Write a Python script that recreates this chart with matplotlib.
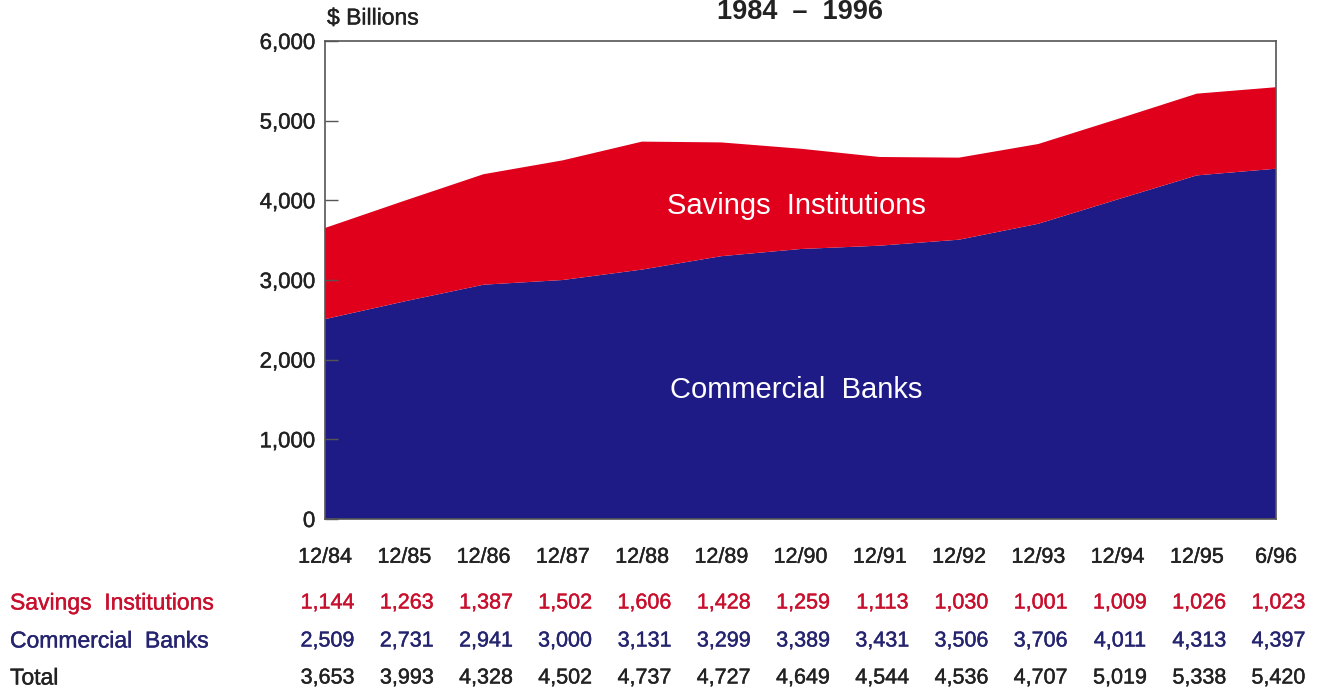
import matplotlib
matplotlib.use("Agg")
import matplotlib.pyplot as plt
from matplotlib.ticker import FuncFormatter
import matplotlib.transforms as mtransforms
import matplotlib.patheffects as pe

plt.rcParams["font.family"] = ["Liberation Sans", "DejaVu Sans"]

periods = ["12/84", "12/85", "12/86", "12/87", "12/88", "12/89", "12/90",
           "12/91", "12/92", "12/93", "12/94", "12/95", "6/96"]
savings = [1144, 1263, 1387, 1502, 1606, 1428, 1259, 1113, 1030, 1001, 1009, 1026, 1023]
commercial = [2509, 2731, 2941, 3000, 3131, 3299, 3389, 3431, 3506, 3706, 4011, 4313, 4397]
totals = [3653, 3993, 4328, 4502, 4737, 4727, 4649, 4544, 4536, 4707, 5019, 5338, 5420]
y_ticks = [0, 1000, 2000, 3000, 4000, 5000, 6000]

RED = "#e1001c"
BLUE = "#1f1b86"
RED_TXT = "#c8102e"
BLUE_TXT = "#25246f"
DARK = "#222222"


def heavy(color, w=0.3):
    return [pe.withStroke(linewidth=w, foreground=color)]


fig = plt.figure(figsize=(13.26, 6.92), dpi=100)
ax = fig.add_axes([325 / 1326, 1 - 519 / 692, (1276 - 325) / 1326, (519 - 41) / 692])

x = list(range(len(periods)))
ax.stackplot(x, commercial, savings, colors=[BLUE, RED], linewidth=0)

ax.set_xlim(0, len(periods) - 1)
ax.set_ylim(0, 6000)
ax.set_yticks(y_ticks)
ax.yaxis.set_major_formatter(FuncFormatter(lambda v, p: f"{int(v):,}"))
ax.tick_params(axis="y", direction="in", length=9, width=1, color="#555555",
               labelsize=16, labelcolor=DARK, pad=7)
ax.set_xticks(x)
ax.set_xticklabels(periods)
ax.tick_params(axis="x", length=0, labelsize=15.5, labelcolor=DARK, pad=20)
for lbl in ax.get_xticklabels() + ax.get_yticklabels():
    lbl.set_path_effects(heavy(DARK))
for side in ["left", "top", "right", "bottom"]:
    ax.spines[side].set_color("#555555")
    ax.spines[side].set_linewidth(1.2)

ax.text(5.95, 3930, "Savings  Institutions", color="white", fontsize=21,
        ha="center", va="center")
ax.text(5.95, 1620, "Commercial  Banks", color="white", fontsize=21,
        ha="center", va="center")

fig.text(327 / 1326, 1 - 18 / 692, "$ Billions", fontsize=16.5, color=DARK,
         ha="left", va="center", path_effects=heavy(DARK))
fig.text(800 / 1326, 1 - 12 / 692, "1984  –  1996", fontsize=19.5, color=DARK,
         ha="center", va="center", fontweight="bold")

# data table below the axis: x in data units, y in figure pixels
trans = mtransforms.blended_transform_factory(ax.transData, fig.transFigure)
rows = [("Savings  Institutions", savings, RED_TXT, 603),
        ("Commercial  Banks", commercial, BLUE_TXT, 641),
        ("Total", totals, DARK, 678)]
for label, values, color, ypix in rows:
    yf = 1 - ypix / 692
    fig.text(10 / 1326, yf, label, color=color, fontsize=16.5, ha="left",
             va="center", path_effects=heavy(color))
    for xi, v in zip(x, values):
        ax.text(xi + 0.03, yf, f"{v:,}", color=color, fontsize=15.5, ha="center",
                va="center", transform=trans, path_effects=heavy(color))

fig.savefig("out.png", dpi=100)
